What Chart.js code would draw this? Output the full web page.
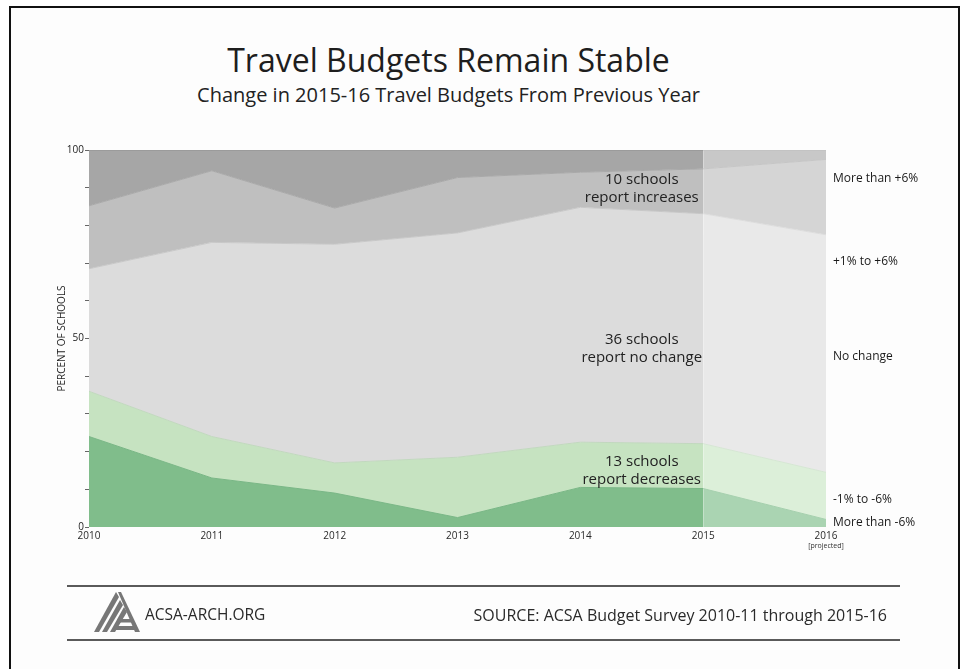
<!DOCTYPE html>
<html lang="en">
<head>
<meta charset="UTF-8">
<title>Travel Budgets Remain Stable</title>
<script src="https://cdn.jsdelivr.net/npm/chart.js"></script>
<style>
  html, body { margin: 0; padding: 0; background: #fff; }
  body {
    width: 961px; height: 669px; position: relative; overflow: hidden;
    font-family: "Open Sans", sans-serif; color: #222;
  }
  .frame {
    position: absolute; left: 9px; top: 6px; width: 947px; height: 700px;
    border: 2px solid #111; background: #fdfdfd;
  }
  #budgetChart { position: absolute; left: 0; top: 0; }
  .title, .subtitle { position: absolute; left: 0; width: 897px; text-align: center; line-height: 1; white-space: nowrap; }
  .title { top: 44px; font-size: 32px; color: #1e1e1e; }
  .subtitle { top: 85px; font-size: 20px; color: #222; }
  .rule { position: absolute; left: 67px; width: 833px; height: 2px; background: #5a5a5a; }
  .site { position: absolute; left: 145px; top: 607px; font-size: 15.5px; line-height: 1; color: #2a2a2a; }
  .source { position: absolute; right: 74px; top: 607px; font-size: 16px; line-height: 1; color: #2a2a2a; white-space: nowrap; }
  .logo { position: absolute; left: 94px; top: 592px; }
</style>
</head>
<body>
  <div class="frame"></div>
  <div class="title">Travel Budgets Remain Stable</div>
  <div class="subtitle">Change in 2015-16 Travel Budgets From Previous Year</div>

  <canvas id="budgetChart" width="961" height="669"></canvas>

  <div class="rule" style="top:585px"></div>
  <svg class="logo" width="46" height="40" viewBox="0 0 46 40">
    <g fill="#777">
      <polygon points="22,0 25,5 5,40 0,40"/>
      <polygon points="26,8 29,13 13,40 8,40"/>
      <polygon points="30,15 33,20 21,40 16,40"/>
      <polygon points="24,0 27,0 46,40 41,40"/>
      <polygon points="24,27 38,27 39.5,30.5 22.5,30.5"/>
      <polygon points="21,34 41,34 43,38 19,38"/>
    </g>
  </svg>
  <div class="site">ACSA-ARCH.ORG</div>
  <div class="source">SOURCE: ACSA Budget Survey 2010-11 through 2015-16</div>
  <div class="rule" style="top:639px"></div>

<script>
  // survey years (2016 is a projection)
  const years = ['2010', '2011', '2012', '2013', '2014', '2015', '2016'];

  // percent of schools per budget change group, bottom to top
  const moreThanMinus6 = [24, 13, 9, 2.5, 10.5, 10.2, 2];
  const minus1to6 = [12, 11, 8, 16, 12, 11.9, 12.5];
  const noChange = [32.5, 51.5, 58, 59.5, 62.3, 61, 63];
  const plus1to6 = [16.7, 19, 9.6, 14.7, 9.3, 11.9, 20];
  const moreThanPlus6 = [14.8, 5.5, 15.4, 7.3, 5.9, 5, 2.5];

  const groupNames = ['More than -6%', '-1% to -6%', 'No change', '+1% to +6%', 'More than +6%'];
  const yTicks = [0, 50, 100];

  // school counts for the latest year
  const notes = [
    ['10 schools', 'report increases'],
    ['36 schools', 'report no change'],
    ['13 schools', 'report decreases']
  ];

  const series = [moreThanMinus6, minus1to6, noChange, plus1to6, moreThanPlus6];
  const fills = ['#80bd8b', '#c6e3c1', '#dcdcdc', '#bfbfbf', '#a6a6a6'];
  const fillsProjected = ['#aad4b2', '#dcefd9', '#e9e9e9', '#d5d5d5', '#c8c8c8'];
  const edges = ['#7ab786', '#c2d8bf', '#c8c8c8', '#a9a9a9', '#8f8f8f'];
  const edgesProjected = ['#a6d0ae', '#d6e6d4', '#dddddd', '#c6c6c6', '#bdbdbd'];
  const FONT = '"Open Sans", sans-serif';

  const labels = {
    id: 'labels',
    afterDraw(chart) {
      const { ctx, scales: { x, y } } = chart;
      ctx.save();
      ctx.fillStyle = '#222';

      // notes inside the areas
      ctx.font = '15px ' + FONT;
      ctx.textAlign = 'center';
      ctx.textBaseline = 'middle';
      const cx = x.getPixelForValue(4.5);
      [89.6, 47.2, 14.9].forEach((v, i) => {
        const cy = y.getPixelForValue(v);
        ctx.fillText(notes[i][0], cx, cy - 9);
        ctx.fillText(notes[i][1], cx, cy + 9);
      });

      // group names on the right
      ctx.font = '12px ' + FONT;
      ctx.fillStyle = '#1a1a1a';
      ctx.textAlign = 'left';
      [1.1, 7.4, 45.2, 70.5, 92.3].forEach((v, i) => {
        ctx.fillText(groupNames[i], x.right + 7, y.getPixelForValue(v));
      });

      // projection note under the last year
      ctx.font = '7px ' + FONT;
      ctx.textAlign = 'center';
      ctx.fillStyle = '#333';
      ctx.fillText('[projected]', x.getPixelForValue(6), y.bottom + 19);
      ctx.restore();
    }
  };

  const ctx = document.getElementById('budgetChart').getContext('2d');
  new Chart(ctx, {
    type: 'line',
    data: {
      labels: years,
      datasets: series.map((data, i) => ({
        label: groupNames[i],
        data: data,
        fill: i === 0 ? 'origin' : '-1',
        backgroundColor: fills[i],
        borderColor: edges[i],
        borderWidth: 1,
        pointRadius: 0,
        tension: 0,
        segment: {
          backgroundColor: c => c.p0DataIndex >= 5 ? fillsProjected[i] : undefined,
          borderColor: c => c.p0DataIndex >= 5 ? edgesProjected[i] : undefined
        }
      }))
    },
    options: {
      responsive: false,
      animation: false,
      layout: { padding: { left: 50, right: 135, top: 150, bottom: 120 } },
      plugins: {
        legend: { display: false },
        tooltip: { enabled: false }
      },
      scales: {
        x: {
          z: 1,
          afterFit: axis => { axis.height = 22; },
          border: { display: false },
          grid: { color: 'rgba(255,255,255,0.06)', drawTicks: false },
          ticks: {
            color: '#2a2a2a',
            font: { family: FONT, size: 10 },
            padding: 3,
            maxRotation: 0,
            autoSkip: false
          }
        },
        y: {
          stacked: true,
          min: 0,
          max: 100,
          afterFit: axis => { axis.width = 39; },
          border: { display: false },
          grid: { drawOnChartArea: false, tickLength: 4, color: '#666' },
          ticks: {
            stepSize: 10,
            padding: 1,
            color: '#222',
            font: { family: FONT, size: 10 },
            callback: v => yTicks.includes(v) ? v : ''
          },
          title: {
            display: true,
            text: 'PERCENT OF SCHOOLS',
            color: '#222',
            font: { family: FONT, size: 10 },
            padding: { top: 6, bottom: 0 }
          }
        }
      }
    },
    plugins: [labels]
  });
</script>
</body>
</html>
